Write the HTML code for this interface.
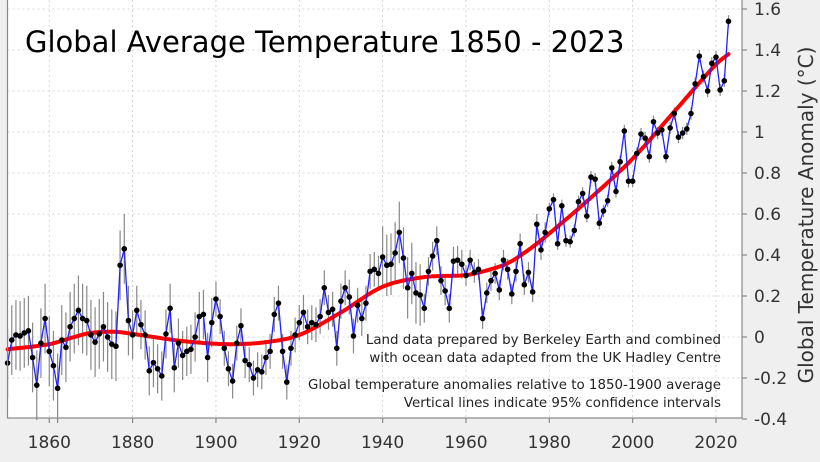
<!DOCTYPE html>
<html><head><meta charset="utf-8"><style>
html,body{margin:0;padding:0;background:#efefef;}
svg{display:block;font-family:"DejaVu Sans","Liberation Sans",sans-serif;}
</style></head><body>
<svg id="s" width="820" height="462" xmlns="http://www.w3.org/2000/svg">
<rect x="0" y="0" width="820" height="462" fill="#efefef"/>
<rect x="7.5" y="-2" width="734.5" height="420" fill="#fff"/>
<g id="grid"></g>
<g id="err"></g>
<path id="red" fill="none" stroke="#ff0000" stroke-width="4" stroke-linejoin="round" stroke-linecap="round"/>
<path id="blue" fill="none" stroke="#2020ff" stroke-width="1.3"/>
<g id="dots" fill="#000"></g>
<rect x="7.5" y="-2" width="734.5" height="420" fill="none" stroke="#888" stroke-width="1.2"/>
<g id="ticks" stroke="#888" stroke-width="1.2"></g>
<g id="labels" fill="#333" font-size="17"></g>
<text x="25" y="52" font-size="29" fill="#000">Global Average Temperature 1850 - 2023</text>
<text transform="translate(813,215) rotate(-90)" text-anchor="middle" font-size="20" fill="#333">Global Temperature Anomaly (°C)</text>
<g font-size="13.4" fill="#222" text-anchor="end">
<text x="721" y="344">Land data prepared by Berkeley Earth and combined</text>
<text x="721" y="362">with ocean data adapted from the UK Hadley Centre</text>
<text x="721" y="389">Global temperature anomalies relative to 1850-1900 average</text>
<text x="721" y="407">Vertical lines indicate 95% confidence intervals</text>
</g>
</svg>
<script>
var NS="http://www.w3.org/2000/svg";
function X(y){return 7.6+(y-1850)*4.167;}
function Y(v){return 9+(1.6-v)*205;}
function el(p,t,a,txt){var e=document.createElementNS(NS,t);for(var k in a)e.setAttribute(k,a[k]);if(txt!=null)e.textContent=txt;document.getElementById(p).appendChild(e);return e;}
var d=[-0.127,-0.015,0.01,0.005,0.02,0.03,-0.10,-0.235,-0.03,0.09,
-0.07,-0.14,-0.25,-0.015,-0.05,0.05,0.09,0.13,0.09,0.08,
0.01,-0.025,0.015,0.05,0.0,-0.035,-0.045,0.35,0.43,0.08,
0.01,0.13,0.06,0.01,-0.165,-0.125,-0.155,-0.19,0.015,0.14,
-0.15,-0.03,-0.09,-0.07,-0.06,0.0,0.10,0.11,-0.10,0.07,
0.185,0.10,-0.055,-0.155,-0.215,-0.03,0.055,-0.115,-0.135,-0.2,
-0.16,-0.17,-0.10,-0.07,0.11,0.165,-0.07,-0.22,-0.055,0.01,
0.07,0.12,0.05,0.07,0.06,0.10,0.24,0.12,0.135,-0.055,
0.175,0.24,0.195,0.005,0.155,0.09,0.165,0.32,0.33,0.31,
0.39,0.35,0.355,0.41,0.51,0.385,0.24,0.31,0.215,0.205,
0.14,0.32,0.395,0.47,0.275,0.225,0.14,0.37,0.375,0.355,
0.30,0.375,0.315,0.33,0.09,0.215,0.275,0.31,0.23,0.375,
0.33,0.21,0.32,0.455,0.255,0.315,0.22,0.55,0.425,0.51,
0.625,0.67,0.455,0.64,0.47,0.465,0.52,0.66,0.70,0.59,
0.78,0.77,0.555,0.615,0.665,0.825,0.71,0.855,1.005,0.76,
0.76,0.895,0.99,0.97,0.88,1.05,0.995,1.01,0.88,1.02,
1.09,0.975,0.995,1.015,1.09,1.235,1.37,1.27,1.20,1.335,
1.365,1.205,1.25,1.54];
for(var v=-0.2;v<1.61;v+=0.2){el("grid","line",{x1:7.5,x2:742,y1:Y(v),y2:Y(v),stroke:"#ccc","stroke-width":0.8,"stroke-dasharray":"2,3"});}
for(var yr=1860;yr<=2020;yr+=20){el("grid","line",{x1:X(yr),x2:X(yr),y1:0,y2:418,stroke:"#ccc","stroke-width":0.8,"stroke-dasharray":"2,3"});}
var lab=["-0.4","-0.2","0","0.2","0.4","0.6","0.8","1","1.2","1.4","1.6"];
for(var i=0;i<11;i++){var v=-0.4+i*0.2,y=Y(v);el("ticks","line",{x1:742,x2:747,y1:y,y2:y});el("labels","text",{x:754,y:y+6},lab[i]);}
for(var yr=1860;yr<=2020;yr+=20){el("ticks","line",{x1:X(yr),x2:X(yr),y1:418,y2:423});el("labels","text",{x:X(yr),y:448,"text-anchor":"middle"},String(yr));}
function eh(yr){if(yr<1880)return 0.17;if(yr<1900)return 0.12;if(yr<1940)return 0.085;if(yr<1950)return 0.15;if(yr<1960)return 0.07;if(yr<1980)return 0.05;return 0.03;}
var pts=[];
for(var i=0;i<d.length;i++){var yr=1850+i,x=X(yr),h=eh(yr);
el("err","line",{x1:x,x2:x,y1:Y(d[i]+h),y2:Y(d[i]-h),stroke:"#888","stroke-width":1.2});
pts.push(x.toFixed(1)+","+Y(d[i]).toFixed(1));
el("dots","circle",{cx:x,cy:Y(d[i]),r:2.8});}
document.getElementById("blue").setAttribute("d","M"+pts.join(" L"));
var k=[[1850,-0.06],[1860,-0.035],[1866,0.0],[1870,0.02],[1876,0.025],[1880,0.015],[1885,0.0],[1892,-0.02],[1903,-0.035],[1912,-0.025],[1920,0.01],[1930,0.12],[1940,0.245],[1950,0.292],[1960,0.302],[1965,0.325],[1970,0.36],[1975,0.425],[1980,0.505],[1990,0.68],[2000,0.87],[2010,1.1],[2020,1.33],[2023,1.38]];
var rp=[];
for(var yr=1850;yr<=2023;yr+=0.5){var j=0;while(j<k.length-2&&k[j+1][0]<yr)j++;
var p0=k[Math.max(j-1,0)],p1=k[j],p2=k[j+1],p3=k[Math.min(j+2,k.length-1)];
var t=(yr-p1[0])/(p2[0]-p1[0]);var dt=p2[0]-p1[0];
var m1=(p2[1]-p0[1])/(p2[0]-p0[0]||1)*dt,m2=(p3[1]-p1[1])/(p3[0]-p1[0]||1)*dt;
var t2=t*t,t3=t2*t;var v=(2*t3-3*t2+1)*p1[1]+(t3-2*t2+t)*m1+(-2*t3+3*t2)*p2[1]+(t3-t2)*m2;
rp.push(X(yr).toFixed(1)+","+Y(v).toFixed(1));}
document.getElementById("red").setAttribute("d","M"+rp.join(" L"));
</script>
</body></html>
